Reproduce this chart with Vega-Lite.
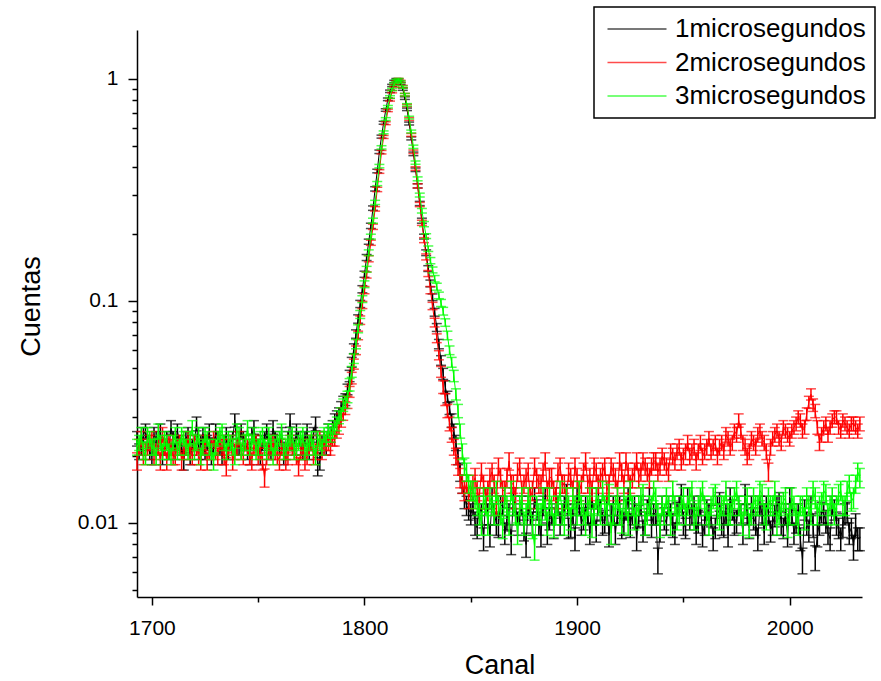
{
"$schema":"https://vega.github.io/schema/vega-lite/v6.json",
"width":725,"height":567,
"autosize":{"type":"none"},
"padding":{"left":137,"top":30,"right":19,"bottom":84},
"background":"white",
"config":{
 "view":{"stroke":null},
 "font":"Liberation Sans",
 "axis":{"domainColor":"#000","domainWidth":1.5,"tickColor":"#000","tickWidth":1.5,"labelColor":"#000","titleColor":"#000","labelFont":"Liberation Sans","titleFont":"Liberation Sans","labelFontSize":21,"titleFontSize":27,"titleFontWeight":"normal","grid":false,"labelOverlap":false,"labelFlush":false,"labelBound":false},
 "legend":{"strokeColor":"#000000","strokeWidth":1.5,"fillColor":"white"}
},
"data":{"values":[
{"c":1693,"a":0.024,"b":0.019,"g":0.022,"ea":0.0018,"eb":0.0017,"eg":0.0018},
{"c":1694,"a":0.021,"b":0.022,"g":0.023,"ea":0.0017,"eb":0.0018,"eg":0.0018},
{"c":1695,"a":0.022,"b":0.024,"g":0.025,"ea":0.0018,"eb":0.0018,"eg":0.0019},
{"c":1696,"a":0.025,"b":0.020,"g":0.021,"ea":0.0019,"eb":0.0017,"eg":0.0017},
{"c":1697,"a":0.026,"b":0.021,"g":0.020,"ea":0.0019,"eb":0.0017,"eg":0.0017},
{"c":1698,"a":0.023,"b":0.022,"g":0.025,"ea":0.0018,"eb":0.0018,"eg":0.0019},
{"c":1699,"a":0.021,"b":0.023,"g":0.024,"ea":0.0017,"eb":0.0018,"eg":0.0018},
{"c":1700,"a":0.020,"b":0.024,"g":0.022,"ea":0.0017,"eb":0.0018,"eg":0.0018},
{"c":1701,"a":0.025,"b":0.020,"g":0.022,"ea":0.0019,"eb":0.0017,"eg":0.0018},
{"c":1702,"a":0.024,"b":0.021,"g":0.020,"ea":0.0018,"eb":0.0017,"eg":0.0017},
{"c":1703,"a":0.022,"b":0.022,"g":0.026,"ea":0.0018,"eb":0.0018,"eg":0.0019},
{"c":1704,"a":0.026,"b":0.019,"g":0.023,"ea":0.0019,"eb":0.0017,"eg":0.0018},
{"c":1705,"a":0.020,"b":0.025,"g":0.021,"ea":0.0017,"eb":0.0019,"eg":0.0017},
{"c":1706,"a":0.022,"b":0.022,"g":0.024,"ea":0.0018,"eb":0.0018,"eg":0.0018},
{"c":1707,"a":0.024,"b":0.019,"g":0.023,"ea":0.0018,"eb":0.0017,"eg":0.0018},
{"c":1708,"a":0.021,"b":0.023,"g":0.021,"ea":0.0017,"eb":0.0018,"eg":0.0017},
{"c":1709,"a":0.027,"b":0.022,"g":0.020,"ea":0.0019,"eb":0.0018,"eg":0.0017},
{"c":1710,"a":0.024,"b":0.020,"g":0.023,"ea":0.0018,"eb":0.0017,"eg":0.0018},
{"c":1711,"a":0.021,"b":0.020,"g":0.025,"ea":0.0017,"eb":0.0017,"eg":0.0019},
{"c":1712,"a":0.026,"b":0.022,"g":0.021,"ea":0.0019,"eb":0.0018,"eg":0.0017},
{"c":1713,"a":0.023,"b":0.023,"g":0.022,"ea":0.0018,"eb":0.0018,"eg":0.0018},
{"c":1714,"a":0.022,"b":0.019,"g":0.025,"ea":0.0018,"eb":0.0017,"eg":0.0019},
{"c":1715,"a":0.019,"b":0.021,"g":0.024,"ea":0.0017,"eb":0.0017,"eg":0.0018},
{"c":1716,"a":0.024,"b":0.022,"g":0.022,"ea":0.0018,"eb":0.0018,"eg":0.0018},
{"c":1717,"a":0.025,"b":0.024,"g":0.021,"ea":0.0019,"eb":0.0018,"eg":0.0017},
{"c":1718,"a":0.020,"b":0.021,"g":0.024,"ea":0.0017,"eb":0.0017,"eg":0.0018},
{"c":1719,"a":0.022,"b":0.020,"g":0.027,"ea":0.0018,"eb":0.0017,"eg":0.0019},
{"c":1720,"a":0.023,"b":0.023,"g":0.021,"ea":0.0018,"eb":0.0018,"eg":0.0017},
{"c":1721,"a":0.028,"b":0.022,"g":0.023,"ea":0.0020,"eb":0.0018,"eg":0.0018},
{"c":1722,"a":0.021,"b":0.020,"g":0.025,"ea":0.0017,"eb":0.0017,"eg":0.0019},
{"c":1723,"a":0.023,"b":0.019,"g":0.020,"ea":0.0018,"eb":0.0017,"eg":0.0017},
{"c":1724,"a":0.025,"b":0.022,"g":0.022,"ea":0.0019,"eb":0.0018,"eg":0.0018},
{"c":1725,"a":0.021,"b":0.023,"g":0.025,"ea":0.0017,"eb":0.0018,"eg":0.0019},
{"c":1726,"a":0.023,"b":0.019,"g":0.024,"ea":0.0018,"eb":0.0017,"eg":0.0018},
{"c":1727,"a":0.026,"b":0.021,"g":0.022,"ea":0.0019,"eb":0.0017,"eg":0.0018},
{"c":1728,"a":0.020,"b":0.022,"g":0.021,"ea":0.0017,"eb":0.0018,"eg":0.0017},
{"c":1729,"a":0.022,"b":0.024,"g":0.019,"ea":0.0018,"eb":0.0018,"eg":0.0017},
{"c":1730,"a":0.026,"b":0.021,"g":0.022,"ea":0.0019,"eb":0.0017,"eg":0.0018},
{"c":1731,"a":0.024,"b":0.020,"g":0.024,"ea":0.0018,"eb":0.0017,"eg":0.0018},
{"c":1732,"a":0.022,"b":0.023,"g":0.025,"ea":0.0018,"eb":0.0018,"eg":0.0019},
{"c":1733,"a":0.020,"b":0.022,"g":0.026,"ea":0.0017,"eb":0.0018,"eg":0.0019},
{"c":1734,"a":0.023,"b":0.020,"g":0.023,"ea":0.0018,"eb":0.0017,"eg":0.0018},
{"c":1735,"a":0.025,"b":0.018,"g":0.021,"ea":0.0019,"eb":0.0017,"eg":0.0017},
{"c":1736,"a":0.021,"b":0.022,"g":0.024,"ea":0.0017,"eb":0.0018,"eg":0.0018},
{"c":1737,"a":0.023,"b":0.023,"g":0.023,"ea":0.0018,"eb":0.0018,"eg":0.0018},
{"c":1738,"a":0.024,"b":0.019,"g":0.022,"ea":0.0018,"eb":0.0017,"eg":0.0018},
{"c":1739,"a":0.029,"b":0.021,"g":0.020,"ea":0.0020,"eb":0.0017,"eg":0.0017},
{"c":1740,"a":0.022,"b":0.022,"g":0.026,"ea":0.0018,"eb":0.0018,"eg":0.0019},
{"c":1741,"a":0.022,"b":0.024,"g":0.025,"ea":0.0018,"eb":0.0018,"eg":0.0019},
{"c":1742,"a":0.026,"b":0.021,"g":0.021,"ea":0.0019,"eb":0.0017,"eg":0.0017},
{"c":1743,"a":0.024,"b":0.020,"g":0.022,"ea":0.0018,"eb":0.0017,"eg":0.0018},
{"c":1744,"a":0.023,"b":0.023,"g":0.023,"ea":0.0018,"eb":0.0018,"eg":0.0018},
{"c":1745,"a":0.021,"b":0.022,"g":0.027,"ea":0.0017,"eb":0.0018,"eg":0.0019},
{"c":1746,"a":0.020,"b":0.020,"g":0.022,"ea":0.0017,"eb":0.0017,"eg":0.0018},
{"c":1747,"a":0.025,"b":0.019,"g":0.023,"ea":0.0019,"eb":0.0017,"eg":0.0018},
{"c":1748,"a":0.027,"b":0.022,"g":0.025,"ea":0.0019,"eb":0.0018,"eg":0.0019},
{"c":1749,"a":0.023,"b":0.023,"g":0.021,"ea":0.0018,"eb":0.0018,"eg":0.0017},
{"c":1750,"a":0.022,"b":0.020,"g":0.022,"ea":0.0018,"eb":0.0017,"eg":0.0018},
{"c":1751,"a":0.020,"b":0.021,"g":0.024,"ea":0.0017,"eb":0.0017,"eg":0.0018},
{"c":1752,"a":0.023,"b":0.019,"g":0.025,"ea":0.0018,"eb":0.0017,"eg":0.0019},
{"c":1753,"a":0.024,"b":0.016,"g":0.022,"ea":0.0018,"eb":0.0015,"eg":0.0018},
{"c":1754,"a":0.026,"b":0.020,"g":0.021,"ea":0.0019,"eb":0.0017,"eg":0.0017},
{"c":1755,"a":0.022,"b":0.021,"g":0.025,"ea":0.0018,"eb":0.0017,"eg":0.0019},
{"c":1756,"a":0.021,"b":0.022,"g":0.023,"ea":0.0017,"eb":0.0018,"eg":0.0018},
{"c":1757,"a":0.027,"b":0.023,"g":0.020,"ea":0.0019,"eb":0.0018,"eg":0.0017},
{"c":1758,"a":0.024,"b":0.021,"g":0.022,"ea":0.0018,"eb":0.0017,"eg":0.0018},
{"c":1759,"a":0.023,"b":0.020,"g":0.023,"ea":0.0018,"eb":0.0017,"eg":0.0018},
{"c":1760,"a":0.022,"b":0.019,"g":0.024,"ea":0.0018,"eb":0.0017,"eg":0.0018},
{"c":1761,"a":0.025,"b":0.022,"g":0.026,"ea":0.0019,"eb":0.0018,"eg":0.0019},
{"c":1762,"a":0.020,"b":0.021,"g":0.021,"ea":0.0017,"eb":0.0017,"eg":0.0017},
{"c":1763,"a":0.021,"b":0.019,"g":0.022,"ea":0.0017,"eb":0.0017,"eg":0.0018},
{"c":1764,"a":0.024,"b":0.020,"g":0.023,"ea":0.0018,"eb":0.0017,"eg":0.0018},
{"c":1765,"a":0.029,"b":0.023,"g":0.024,"ea":0.0020,"eb":0.0018,"eg":0.0018},
{"c":1766,"a":0.023,"b":0.022,"g":0.025,"ea":0.0018,"eb":0.0018,"eg":0.0019},
{"c":1767,"a":0.022,"b":0.021,"g":0.021,"ea":0.0018,"eb":0.0017,"eg":0.0017},
{"c":1768,"a":0.026,"b":0.020,"g":0.022,"ea":0.0019,"eb":0.0017,"eg":0.0018},
{"c":1769,"a":0.024,"b":0.018,"g":0.023,"ea":0.0018,"eb":0.0017,"eg":0.0018},
{"c":1770,"a":0.022,"b":0.021,"g":0.024,"ea":0.0018,"eb":0.0017,"eg":0.0018},
{"c":1771,"a":0.021,"b":0.022,"g":0.025,"ea":0.0017,"eb":0.0018,"eg":0.0019},
{"c":1772,"a":0.024,"b":0.019,"g":0.021,"ea":0.0018,"eb":0.0017,"eg":0.0017},
{"c":1773,"a":0.026,"b":0.020,"g":0.022,"ea":0.0019,"eb":0.0017,"eg":0.0018},
{"c":1774,"a":0.021,"b":0.022,"g":0.023,"ea":0.0017,"eb":0.0018,"eg":0.0018},
{"c":1775,"a":0.023,"b":0.023,"g":0.024,"ea":0.0018,"eb":0.0018,"eg":0.0018},
{"c":1776,"a":0.025,"b":0.020,"g":0.022,"ea":0.0019,"eb":0.0017,"eg":0.0018},
{"c":1777,"a":0.028,"b":0.021,"g":0.020,"ea":0.0020,"eb":0.0017,"eg":0.0017},
{"c":1778,"a":0.018,"b":0.022,"g":0.024,"ea":0.0017,"eb":0.0018,"eg":0.0018},
{"c":1779,"a":0.019,"b":0.024,"g":0.023,"ea":0.0017,"eb":0.0018,"eg":0.0018},
{"c":1780,"a":0.023,"b":0.021,"g":0.022,"ea":0.0018,"eb":0.0017,"eg":0.0018},
{"c":1781,"a":0.024,"b":0.022,"g":0.025,"ea":0.0018,"eb":0.0018,"eg":0.0019},
{"c":1782,"a":0.022,"b":0.023,"g":0.024,"ea":0.0018,"eb":0.0018,"eg":0.0018},
{"c":1783,"a":0.026,"b":0.023,"g":0.026,"ea":0.0019,"eb":0.0018,"eg":0.0019},
{"c":1784,"a":0.025,"b":0.022,"g":0.025,"ea":0.0019,"eb":0.0018,"eg":0.0019},
{"c":1785,"a":0.027,"b":0.024,"g":0.026,"ea":0.0019,"eb":0.0018,"eg":0.0019},
{"c":1786,"a":0.029,"b":0.024,"g":0.027,"ea":0.0020,"eb":0.0018,"eg":0.0019},
{"c":1787,"a":0.030,"b":0.026,"g":0.028,"ea":0.0020,"eb":0.0019,"eg":0.0020},
{"c":1788,"a":0.031,"b":0.027,"g":0.030,"ea":0.0020,"eb":0.0019,"eg":0.0020},
{"c":1789,"a":0.033,"b":0.029,"g":0.031,"ea":0.0022,"eb":0.0020,"eg":0.0020},
{"c":1790,"a":0.035,"b":0.031,"g":0.034,"ea":0.0022,"eb":0.0020,"eg":0.0022},
{"c":1791,"a":0.036,"b":0.033,"g":0.035,"ea":0.0022,"eb":0.0022,"eg":0.0022},
{"c":1792,"a":0.040,"b":0.035,"g":0.037,"ea":0.0022,"eb":0.0022,"eg":0.0022},
{"c":1793,"a":0.046,"b":0.039,"g":0.042,"ea":0.0027,"eb":0.0022,"eg":0.0027},
{"c":1794,"a":0.053,"b":0.045,"g":0.048,"ea":0.0027,"eb":0.0027,"eg":0.0027},
{"c":1795,"a":0.061,"b":0.052,"g":0.055,"ea":0.0031,"eb":0.0027,"eg":0.0027},
{"c":1796,"a":0.071,"b":0.060,"g":0.064,"ea":0.0031,"eb":0.0027,"eg":0.0031},
{"c":1797,"a":0.083,"b":0.070,"g":0.075,"ea":0.0036,"eb":0.0031,"eg":0.0031},
{"c":1798,"a":0.097,"b":0.082,"g":0.087,"ea":0.0036,"eb":0.0036,"eg":0.0036},
{"c":1799,"a":0.113,"b":0.096,"g":0.102,"ea":0.0042,"eb":0.0036,"eg":0.0036},
{"c":1800,"a":0.132,"b":0.112,"g":0.119,"ea":0.0042,"eb":0.0042,"eg":0.0042},
{"c":1801,"a":0.157,"b":0.131,"g":0.139,"ea":0.0049,"eb":0.0042,"eg":0.0042},
{"c":1802,"a":0.185,"b":0.155,"g":0.165,"ea":0.0049,"eb":0.0049,"eg":0.0049},
{"c":1803,"a":0.218,"b":0.183,"g":0.195,"ea":0.006,"eb":0.0049,"eg":0.0049},
{"c":1804,"a":0.262,"b":0.216,"g":0.230,"ea":0.006,"eb":0.006,"eg":0.006},
{"c":1805,"a":0.320,"b":0.260,"g":0.278,"ea":0.0072,"eb":0.006,"eg":0.006},
{"c":1806,"a":0.385,"b":0.318,"g":0.338,"ea":0.0072,"eb":0.0072,"eg":0.0072},
{"c":1807,"a":0.470,"b":0.383,"g":0.405,"ea":0.0085,"eb":0.0072,"eg":0.0072},
{"c":1808,"a":0.550,"b":0.468,"g":0.492,"ea":0.0085,"eb":0.0085,"eg":0.0085},
{"c":1809,"a":0.635,"b":0.548,"g":0.575,"ea":0.0095,"eb":0.0085,"eg":0.0085},
{"c":1810,"a":0.725,"b":0.632,"g":0.660,"ea":0.0095,"eb":0.0095,"eg":0.0095},
{"c":1811,"a":0.810,"b":0.722,"g":0.750,"ea":0.011,"eb":0.0095,"eg":0.0095},
{"c":1812,"a":0.880,"b":0.806,"g":0.830,"ea":0.011,"eb":0.011,"eg":0.011},
{"c":1813,"a":0.935,"b":0.877,"g":0.897,"ea":0.011,"eb":0.011,"eg":0.011},
{"c":1814,"a":0.975,"b":0.932,"g":0.948,"ea":0.011,"eb":0.011,"eg":0.011},
{"c":1815,"a":0.995,"b":0.972,"g":0.983,"ea":0.011,"eb":0.011,"eg":0.011},
{"c":1816,"a":0.990,"b":0.995,"g":0.995,"ea":0.011,"eb":0.011,"eg":0.011},
{"c":1817,"a":0.955,"b":0.975,"g":0.970,"ea":0.011,"eb":0.011,"eg":0.011},
{"c":1818,"a":0.900,"b":0.925,"g":0.920,"ea":0.011,"eb":0.011,"eg":0.011},
{"c":1819,"a":0.820,"b":0.850,"g":0.850,"ea":0.011,"eb":0.011,"eg":0.011},
{"c":1820,"a":0.730,"b":0.760,"g":0.765,"ea":0.0095,"eb":0.0095,"eg":0.0095},
{"c":1821,"a":0.630,"b":0.660,"g":0.670,"ea":0.0095,"eb":0.0095,"eg":0.0095},
{"c":1822,"a":0.540,"b":0.560,"g":0.580,"ea":0.0085,"eb":0.0085,"eg":0.0085},
{"c":1823,"a":0.460,"b":0.470,"g":0.495,"ea":0.0085,"eb":0.0085,"eg":0.0085},
{"c":1824,"a":0.390,"b":0.395,"g":0.420,"ea":0.0072,"eb":0.0072,"eg":0.0072},
{"c":1825,"a":0.330,"b":0.330,"g":0.355,"ea":0.0072,"eb":0.0072,"eg":0.0072},
{"c":1826,"a":0.275,"b":0.272,"g":0.300,"ea":0.006,"eb":0.006,"eg":0.006},
{"c":1827,"a":0.230,"b":0.225,"g":0.255,"ea":0.006,"eb":0.006,"eg":0.006},
{"c":1828,"a":0.195,"b":0.188,"g":0.222,"ea":0.0049,"eb":0.0049,"eg":0.006},
{"c":1829,"a":0.165,"b":0.158,"g":0.196,"ea":0.0049,"eb":0.0049,"eg":0.0049},
{"c":1830,"a":0.140,"b":0.133,"g":0.172,"ea":0.0042,"eb":0.0042,"eg":0.0049},
{"c":1831,"a":0.120,"b":0.112,"g":0.152,"ea":0.0042,"eb":0.0042,"eg":0.0049},
{"c":1832,"a":0.104,"b":0.095,"g":0.138,"ea":0.0036,"eb":0.0036,"eg":0.0042},
{"c":1833,"a":0.089,"b":0.080,"g":0.126,"ea":0.0036,"eb":0.0036,"eg":0.0042},
{"c":1834,"a":0.076,"b":0.068,"g":0.116,"ea":0.0031,"eb":0.0031,"eg":0.0042},
{"c":1835,"a":0.064,"b":0.057,"g":0.106,"ea":0.0031,"eb":0.0027,"eg":0.0036},
{"c":1836,"a":0.054,"b":0.048,"g":0.098,"ea":0.0027,"eb":0.0027,"eg":0.0036},
{"c":1837,"a":0.047,"b":0.041,"g":0.090,"ea":0.0027,"eb":0.0027,"eg":0.0036},
{"c":1838,"a":0.041,"b":0.036,"g":0.080,"ea":0.0027,"eb":0.0022,"eg":0.0031},
{"c":1839,"a":0.037,"b":0.032,"g":0.070,"ea":0.0022,"eb":0.0022,"eg":0.0031},
{"c":1840,"a":0.033,"b":0.028,"g":0.060,"ea":0.0022,"eb":0.0020,"eg":0.0027},
{"c":1841,"a":0.029,"b":0.025,"g":0.053,"ea":0.0020,"eb":0.0019,"eg":0.0027},
{"c":1842,"a":0.026,"b":0.022,"g":0.046,"ea":0.0019,"eb":0.0018,"eg":0.0027},
{"c":1843,"a":0.023,"b":0.020,"g":0.038,"ea":0.0018,"eb":0.0017,"eg":0.0022},
{"c":1844,"a":0.020,"b":0.018,"g":0.032,"ea":0.0017,"eb":0.0016,"eg":0.0022},
{"c":1845,"a":0.017,"b":0.016,"g":0.026,"ea":0.0016,"eb":0.0016,"eg":0.0019},
{"c":1846,"a":0.015,"b":0.015,"g":0.021,"ea":0.0014,"eb":0.0014,"eg":0.0017},
{"c":1847,"a":0.013,"b":0.014,"g":0.018,"ea":0.0014,"eb":0.0014,"eg":0.0016},
{"c":1848,"a":0.012,"b":0.015,"g":0.017,"ea":0.0012,"eb":0.0014,"eg":0.0016},
{"c":1849,"a":0.0115,"b":0.013,"g":0.015,"ea":0.0012,"eb":0.0014,"eg":0.0014},
{"c":1850,"a":0.011,"b":0.014,"g":0.014,"ea":0.0012,"eb":0.0014,"eg":0.0014},
{"c":1851,"a":0.012,"b":0.015,"g":0.014,"ea":0.0012,"eb":0.0014,"eg":0.0014},
{"c":1852,"a":0.010,"b":0.016,"g":0.013,"ea":0.0012,"eb":0.0016,"eg":0.0014},
{"c":1853,"a":0.0095,"b":0.014,"g":0.012,"ea":0.0010,"eb":0.0014,"eg":0.0012},
{"c":1854,"a":0.012,"b":0.013,"g":0.011,"ea":0.0012,"eb":0.0014,"eg":0.0012},
{"c":1855,"a":0.011,"b":0.017,"g":0.010,"ea":0.0012,"eb":0.0016,"eg":0.0012},
{"c":1856,"a":0.0085,"b":0.015,"g":0.013,"ea":0.0010,"eb":0.0014,"eg":0.0014},
{"c":1857,"a":0.013,"b":0.013,"g":0.012,"ea":0.0014,"eb":0.0014,"eg":0.0012},
{"c":1858,"a":0.011,"b":0.014,"g":0.010,"ea":0.0012,"eb":0.0014,"eg":0.0012},
{"c":1859,"a":0.0088,"b":0.016,"g":0.013,"ea":0.0010,"eb":0.0016,"eg":0.0014},
{"c":1860,"a":0.013,"b":0.017,"g":0.012,"ea":0.0014,"eb":0.0016,"eg":0.0012},
{"c":1861,"a":0.011,"b":0.015,"g":0.011,"ea":0.0012,"eb":0.0014,"eg":0.0012},
{"c":1862,"a":0.010,"b":0.012,"g":0.014,"ea":0.0012,"eb":0.0012,"eg":0.0014},
{"c":1863,"a":0.0098,"b":0.018,"g":0.012,"ea":0.0012,"eb":0.0016,"eg":0.0012},
{"c":1864,"a":0.012,"b":0.016,"g":0.011,"ea":0.0012,"eb":0.0016,"eg":0.0012},
{"c":1865,"a":0.012,"b":0.014,"g":0.0095,"ea":0.0012,"eb":0.0014,"eg":0.0010},
{"c":1866,"a":0.009,"b":0.014,"g":0.013,"ea":0.0010,"eb":0.0014,"eg":0.0014},
{"c":1867,"a":0.0105,"b":0.016,"g":0.012,"ea":0.0012,"eb":0.0016,"eg":0.0012},
{"c":1868,"a":0.011,"b":0.019,"g":0.010,"ea":0.0012,"eb":0.0017,"eg":0.0012},
{"c":1869,"a":0.0082,"b":0.015,"g":0.014,"ea":0.0010,"eb":0.0014,"eg":0.0014},
{"c":1870,"a":0.013,"b":0.015,"g":0.012,"ea":0.0014,"eb":0.0014,"eg":0.0012},
{"c":1871,"a":0.012,"b":0.013,"g":0.011,"ea":0.0012,"eb":0.0014,"eg":0.0012},
{"c":1872,"a":0.010,"b":0.017,"g":0.009,"ea":0.0012,"eb":0.0016,"eg":0.0010},
{"c":1873,"a":0.011,"b":0.018,"g":0.012,"ea":0.0012,"eb":0.0016,"eg":0.0012},
{"c":1874,"a":0.012,"b":0.014,"g":0.013,"ea":0.0012,"eb":0.0014,"eg":0.0014},
{"c":1875,"a":0.0093,"b":0.015,"g":0.010,"ea":0.0010,"eb":0.0014,"eg":0.0012},
{"c":1876,"a":0.008,"b":0.016,"g":0.011,"ea":0.0010,"eb":0.0016,"eg":0.0012},
{"c":1877,"a":0.012,"b":0.017,"g":0.013,"ea":0.0012,"eb":0.0016,"eg":0.0014},
{"c":1878,"a":0.011,"b":0.013,"g":0.012,"ea":0.0012,"eb":0.0014,"eg":0.0012},
{"c":1879,"a":0.010,"b":0.014,"g":0.0095,"ea":0.0012,"eb":0.0014,"eg":0.0010},
{"c":1880,"a":0.013,"b":0.018,"g":0.0078,"ea":0.0014,"eb":0.0016,"eg":0.0010},
{"c":1881,"a":0.0115,"b":0.016,"g":0.012,"ea":0.0012,"eb":0.0016,"eg":0.0012},
{"c":1882,"a":0.010,"b":0.015,"g":0.011,"ea":0.0012,"eb":0.0014,"eg":0.0012},
{"c":1883,"a":0.0088,"b":0.015,"g":0.011,"ea":0.0010,"eb":0.0014,"eg":0.0012},
{"c":1884,"a":0.012,"b":0.017,"g":0.013,"ea":0.0012,"eb":0.0016,"eg":0.0014},
{"c":1885,"a":0.013,"b":0.019,"g":0.0115,"ea":0.0014,"eb":0.0017,"eg":0.0012},
{"c":1886,"a":0.009,"b":0.014,"g":0.010,"ea":0.0010,"eb":0.0014,"eg":0.0012},
{"c":1887,"a":0.0105,"b":0.016,"g":0.013,"ea":0.0012,"eb":0.0016,"eg":0.0014},
{"c":1888,"a":0.011,"b":0.016,"g":0.012,"ea":0.0012,"eb":0.0016,"eg":0.0012},
{"c":1889,"a":0.0095,"b":0.014,"g":0.0098,"ea":0.0010,"eb":0.0014,"eg":0.0012},
{"c":1890,"a":0.013,"b":0.013,"g":0.011,"ea":0.0014,"eb":0.0014,"eg":0.0012},
{"c":1891,"a":0.012,"b":0.017,"g":0.012,"ea":0.0012,"eb":0.0016,"eg":0.0012},
{"c":1892,"a":0.010,"b":0.018,"g":0.014,"ea":0.0012,"eb":0.0016,"eg":0.0014},
{"c":1893,"a":0.011,"b":0.015,"g":0.011,"ea":0.0012,"eb":0.0014,"eg":0.0012},
{"c":1894,"a":0.012,"b":0.015,"g":0.010,"ea":0.0012,"eb":0.0014,"eg":0.0012},
{"c":1895,"a":0.0135,"b":0.013,"g":0.013,"ea":0.0014,"eb":0.0014,"eg":0.0014},
{"c":1896,"a":0.0095,"b":0.017,"g":0.012,"ea":0.0010,"eb":0.0016,"eg":0.0012},
{"c":1897,"a":0.0098,"b":0.016,"g":0.0105,"ea":0.0012,"eb":0.0016,"eg":0.0012},
{"c":1898,"a":0.011,"b":0.014,"g":0.013,"ea":0.0012,"eb":0.0014,"eg":0.0014},
{"c":1899,"a":0.0085,"b":0.018,"g":0.012,"ea":0.0010,"eb":0.0016,"eg":0.0012},
{"c":1900,"a":0.013,"b":0.016,"g":0.011,"ea":0.0014,"eb":0.0016,"eg":0.0012},
{"c":1901,"a":0.012,"b":0.014,"g":0.014,"ea":0.0012,"eb":0.0014,"eg":0.0014},
{"c":1902,"a":0.010,"b":0.015,"g":0.012,"ea":0.0012,"eb":0.0014,"eg":0.0012},
{"c":1903,"a":0.0105,"b":0.017,"g":0.011,"ea":0.0012,"eb":0.0016,"eg":0.0012},
{"c":1904,"a":0.012,"b":0.019,"g":0.010,"ea":0.0012,"eb":0.0017,"eg":0.0012},
{"c":1905,"a":0.011,"b":0.015,"g":0.012,"ea":0.0012,"eb":0.0014,"eg":0.0012},
{"c":1906,"a":0.009,"b":0.016,"g":0.013,"ea":0.0010,"eb":0.0016,"eg":0.0014},
{"c":1907,"a":0.013,"b":0.014,"g":0.0098,"ea":0.0014,"eb":0.0014,"eg":0.0012},
{"c":1908,"a":0.011,"b":0.018,"g":0.011,"ea":0.0012,"eb":0.0016,"eg":0.0012},
{"c":1909,"a":0.0092,"b":0.017,"g":0.013,"ea":0.0010,"eb":0.0016,"eg":0.0014},
{"c":1910,"a":0.013,"b":0.015,"g":0.012,"ea":0.0014,"eb":0.0014,"eg":0.0012},
{"c":1911,"a":0.0115,"b":0.016,"g":0.011,"ea":0.0012,"eb":0.0016,"eg":0.0012},
{"c":1912,"a":0.010,"b":0.017,"g":0.014,"ea":0.0012,"eb":0.0016,"eg":0.0014},
{"c":1913,"a":0.0102,"b":0.018,"g":0.012,"ea":0.0012,"eb":0.0016,"eg":0.0012},
{"c":1914,"a":0.012,"b":0.014,"g":0.011,"ea":0.0012,"eb":0.0014,"eg":0.0012},
{"c":1915,"a":0.0088,"b":0.015,"g":0.0135,"ea":0.0010,"eb":0.0014,"eg":0.0014},
{"c":1916,"a":0.011,"b":0.018,"g":0.009,"ea":0.0012,"eb":0.0016,"eg":0.0010},
{"c":1917,"a":0.012,"b":0.017,"g":0.011,"ea":0.0012,"eb":0.0016,"eg":0.0012},
{"c":1918,"a":0.009,"b":0.016,"g":0.012,"ea":0.0010,"eb":0.0016,"eg":0.0012},
{"c":1919,"a":0.011,"b":0.014,"g":0.013,"ea":0.0012,"eb":0.0014,"eg":0.0014},
{"c":1920,"a":0.012,"b":0.019,"g":0.011,"ea":0.0012,"eb":0.0017,"eg":0.0012},
{"c":1921,"a":0.0095,"b":0.017,"g":0.0102,"ea":0.0010,"eb":0.0016,"eg":0.0012},
{"c":1922,"a":0.010,"b":0.015,"g":0.013,"ea":0.0012,"eb":0.0014,"eg":0.0014},
{"c":1923,"a":0.0115,"b":0.019,"g":0.012,"ea":0.0012,"eb":0.0017,"eg":0.0012},
{"c":1924,"a":0.013,"b":0.017,"g":0.010,"ea":0.0014,"eb":0.0016,"eg":0.0012},
{"c":1925,"a":0.0098,"b":0.015,"g":0.014,"ea":0.0012,"eb":0.0014,"eg":0.0014},
{"c":1926,"a":0.011,"b":0.016,"g":0.012,"ea":0.0012,"eb":0.0016,"eg":0.0012},
{"c":1927,"a":0.012,"b":0.017,"g":0.0105,"ea":0.0012,"eb":0.0016,"eg":0.0012},
{"c":1928,"a":0.0085,"b":0.019,"g":0.011,"ea":0.0010,"eb":0.0017,"eg":0.0012},
{"c":1929,"a":0.0108,"b":0.016,"g":0.012,"ea":0.0012,"eb":0.0016,"eg":0.0012},
{"c":1930,"a":0.012,"b":0.017,"g":0.013,"ea":0.0012,"eb":0.0016,"eg":0.0014},
{"c":1931,"a":0.0092,"b":0.019,"g":0.0135,"ea":0.0010,"eb":0.0017,"eg":0.0014},
{"c":1932,"a":0.010,"b":0.018,"g":0.010,"ea":0.0012,"eb":0.0016,"eg":0.0012},
{"c":1933,"a":0.0115,"b":0.017,"g":0.011,"ea":0.0012,"eb":0.0016,"eg":0.0012},
{"c":1934,"a":0.013,"b":0.016,"g":0.012,"ea":0.0014,"eb":0.0016,"eg":0.0012},
{"c":1935,"a":0.0098,"b":0.018,"g":0.012,"ea":0.0012,"eb":0.0016,"eg":0.0012},
{"c":1936,"a":0.011,"b":0.019,"g":0.014,"ea":0.0012,"eb":0.0017,"eg":0.0014},
{"c":1937,"a":0.011,"b":0.019,"g":0.013,"ea":0.0012,"eb":0.0017,"eg":0.0014},
{"c":1938,"a":0.0068,"b":0.017,"g":0.011,"ea":0.0009,"eb":0.0016,"eg":0.0012},
{"c":1939,"a":0.0092,"b":0.018,"g":0.0098,"ea":0.0010,"eb":0.0016,"eg":0.0012},
{"c":1940,"a":0.012,"b":0.020,"g":0.012,"ea":0.0012,"eb":0.0017,"eg":0.0012},
{"c":1941,"a":0.0105,"b":0.019,"g":0.011,"ea":0.0012,"eb":0.0017,"eg":0.0012},
{"c":1942,"a":0.010,"b":0.018,"g":0.013,"ea":0.0012,"eb":0.0016,"eg":0.0014},
{"c":1943,"a":0.012,"b":0.017,"g":0.012,"ea":0.0012,"eb":0.0016,"eg":0.0012},
{"c":1944,"a":0.011,"b":0.021,"g":0.010,"ea":0.0012,"eb":0.0017,"eg":0.0012},
{"c":1945,"a":0.0098,"b":0.020,"g":0.014,"ea":0.0012,"eb":0.0017,"eg":0.0014},
{"c":1946,"a":0.009,"b":0.019,"g":0.012,"ea":0.0010,"eb":0.0017,"eg":0.0012},
{"c":1947,"a":0.0112,"b":0.021,"g":0.0105,"ea":0.0012,"eb":0.0017,"eg":0.0012},
{"c":1948,"a":0.012,"b":0.022,"g":0.011,"ea":0.0012,"eb":0.0018,"eg":0.0012},
{"c":1949,"a":0.0135,"b":0.019,"g":0.012,"ea":0.0014,"eb":0.0017,"eg":0.0012},
{"c":1950,"a":0.010,"b":0.020,"g":0.013,"ea":0.0012,"eb":0.0017,"eg":0.0014},
{"c":1951,"a":0.0095,"b":0.021,"g":0.011,"ea":0.0010,"eb":0.0017,"eg":0.0012},
{"c":1952,"a":0.013,"b":0.023,"g":0.012,"ea":0.0014,"eb":0.0018,"eg":0.0012},
{"c":1953,"a":0.0105,"b":0.020,"g":0.013,"ea":0.0012,"eb":0.0017,"eg":0.0014},
{"c":1954,"a":0.011,"b":0.021,"g":0.014,"ea":0.0012,"eb":0.0017,"eg":0.0014},
{"c":1955,"a":0.012,"b":0.022,"g":0.0105,"ea":0.0012,"eb":0.0018,"eg":0.0012},
{"c":1956,"a":0.009,"b":0.019,"g":0.011,"ea":0.0010,"eb":0.0017,"eg":0.0012},
{"c":1957,"a":0.0102,"b":0.021,"g":0.012,"ea":0.0012,"eb":0.0017,"eg":0.0012},
{"c":1958,"a":0.012,"b":0.023,"g":0.013,"ea":0.0012,"eb":0.0018,"eg":0.0014},
{"c":1959,"a":0.0088,"b":0.020,"g":0.014,"ea":0.0010,"eb":0.0017,"eg":0.0014},
{"c":1960,"a":0.010,"b":0.021,"g":0.012,"ea":0.0012,"eb":0.0017,"eg":0.0012},
{"c":1961,"a":0.0115,"b":0.022,"g":0.011,"ea":0.0012,"eb":0.0018,"eg":0.0012},
{"c":1962,"a":0.011,"b":0.024,"g":0.010,"ea":0.0012,"eb":0.0018,"eg":0.0012},
{"c":1963,"a":0.0108,"b":0.021,"g":0.012,"ea":0.0012,"eb":0.0017,"eg":0.0012},
{"c":1964,"a":0.0085,"b":0.022,"g":0.013,"ea":0.0010,"eb":0.0018,"eg":0.0014},
{"c":1965,"a":0.0095,"b":0.023,"g":0.0135,"ea":0.0010,"eb":0.0018,"eg":0.0014},
{"c":1966,"a":0.012,"b":0.020,"g":0.011,"ea":0.0012,"eb":0.0017,"eg":0.0012},
{"c":1967,"a":0.0125,"b":0.022,"g":0.0105,"ea":0.0012,"eb":0.0018,"eg":0.0012},
{"c":1968,"a":0.010,"b":0.023,"g":0.012,"ea":0.0012,"eb":0.0018,"eg":0.0012},
{"c":1969,"a":0.0098,"b":0.021,"g":0.012,"ea":0.0012,"eb":0.0017,"eg":0.0012},
{"c":1970,"a":0.011,"b":0.025,"g":0.014,"ea":0.0012,"eb":0.0019,"eg":0.0014},
{"c":1971,"a":0.0088,"b":0.024,"g":0.011,"ea":0.0010,"eb":0.0018,"eg":0.0012},
{"c":1972,"a":0.013,"b":0.022,"g":0.011,"ea":0.0014,"eb":0.0018,"eg":0.0012},
{"c":1973,"a":0.0115,"b":0.023,"g":0.012,"ea":0.0012,"eb":0.0018,"eg":0.0012},
{"c":1974,"a":0.010,"b":0.026,"g":0.013,"ea":0.0012,"eb":0.0019,"eg":0.0014},
{"c":1975,"a":0.0102,"b":0.025,"g":0.014,"ea":0.0012,"eb":0.0019,"eg":0.0014},
{"c":1976,"a":0.012,"b":0.029,"g":0.012,"ea":0.0012,"eb":0.0020,"eg":0.0012},
{"c":1977,"a":0.011,"b":0.026,"g":0.011,"ea":0.0012,"eb":0.0019,"eg":0.0012},
{"c":1978,"a":0.009,"b":0.023,"g":0.010,"ea":0.0010,"eb":0.0018,"eg":0.0012},
{"c":1979,"a":0.0135,"b":0.022,"g":0.012,"ea":0.0014,"eb":0.0018,"eg":0.0012},
{"c":1980,"a":0.011,"b":0.020,"g":0.013,"ea":0.0012,"eb":0.0017,"eg":0.0014},
{"c":1981,"a":0.0095,"b":0.021,"g":0.0098,"ea":0.0010,"eb":0.0017,"eg":0.0012},
{"c":1982,"a":0.012,"b":0.024,"g":0.011,"ea":0.0012,"eb":0.0018,"eg":0.0012},
{"c":1983,"a":0.0105,"b":0.023,"g":0.013,"ea":0.0012,"eb":0.0018,"eg":0.0014},
{"c":1984,"a":0.010,"b":0.022,"g":0.012,"ea":0.0012,"eb":0.0018,"eg":0.0012},
{"c":1985,"a":0.0085,"b":0.025,"g":0.012,"ea":0.0010,"eb":0.0019,"eg":0.0012},
{"c":1986,"a":0.012,"b":0.026,"g":0.014,"ea":0.0012,"eb":0.0019,"eg":0.0014},
{"c":1987,"a":0.011,"b":0.024,"g":0.0135,"ea":0.0012,"eb":0.0018,"eg":0.0014},
{"c":1988,"a":0.009,"b":0.023,"g":0.011,"ea":0.0010,"eb":0.0018,"eg":0.0012},
{"c":1989,"a":0.012,"b":0.021,"g":0.0105,"ea":0.0012,"eb":0.0017,"eg":0.0012},
{"c":1990,"a":0.011,"b":0.017,"g":0.013,"ea":0.0012,"eb":0.0016,"eg":0.0014},
{"c":1991,"a":0.0092,"b":0.022,"g":0.012,"ea":0.0010,"eb":0.0018,"eg":0.0012},
{"c":1992,"a":0.010,"b":0.024,"g":0.012,"ea":0.0012,"eb":0.0018,"eg":0.0012},
{"c":1993,"a":0.0108,"b":0.025,"g":0.014,"ea":0.0012,"eb":0.0019,"eg":0.0014},
{"c":1994,"a":0.012,"b":0.026,"g":0.010,"ea":0.0012,"eb":0.0019,"eg":0.0012},
{"c":1995,"a":0.0125,"b":0.024,"g":0.011,"ea":0.0012,"eb":0.0018,"eg":0.0012},
{"c":1996,"a":0.010,"b":0.023,"g":0.012,"ea":0.0012,"eb":0.0018,"eg":0.0012},
{"c":1997,"a":0.0095,"b":0.027,"g":0.0125,"ea":0.0010,"eb":0.0019,"eg":0.0012},
{"c":1998,"a":0.011,"b":0.026,"g":0.013,"ea":0.0012,"eb":0.0019,"eg":0.0014},
{"c":1999,"a":0.0088,"b":0.025,"g":0.0098,"ea":0.0010,"eb":0.0019,"eg":0.0012},
{"c":2000,"a":0.013,"b":0.024,"g":0.011,"ea":0.0014,"eb":0.0018,"eg":0.0012},
{"c":2001,"a":0.011,"b":0.026,"g":0.013,"ea":0.0012,"eb":0.0019,"eg":0.0014},
{"c":2002,"a":0.009,"b":0.027,"g":0.012,"ea":0.0010,"eb":0.0019,"eg":0.0012},
{"c":2003,"a":0.0102,"b":0.028,"g":0.011,"ea":0.0012,"eb":0.0020,"eg":0.0012},
{"c":2004,"a":0.011,"b":0.030,"g":0.010,"ea":0.0012,"eb":0.0020,"eg":0.0012},
{"c":2005,"a":0.0085,"b":0.029,"g":0.012,"ea":0.0010,"eb":0.0020,"eg":0.0012},
{"c":2006,"a":0.0068,"b":0.026,"g":0.012,"ea":0.0009,"eb":0.0019,"eg":0.0012},
{"c":2007,"a":0.0115,"b":0.027,"g":0.0105,"ea":0.0012,"eb":0.0019,"eg":0.0012},
{"c":2008,"a":0.010,"b":0.031,"g":0.013,"ea":0.0012,"eb":0.0020,"eg":0.0014},
{"c":2009,"a":0.0092,"b":0.035,"g":0.012,"ea":0.0010,"eb":0.0022,"eg":0.0012},
{"c":2010,"a":0.012,"b":0.038,"g":0.011,"ea":0.0012,"eb":0.0022,"eg":0.0012},
{"c":2011,"a":0.0098,"b":0.034,"g":0.014,"ea":0.0012,"eb":0.0022,"eg":0.0014},
{"c":2012,"a":0.0070,"b":0.032,"g":0.013,"ea":0.0009,"eb":0.0022,"eg":0.0014},
{"c":2013,"a":0.0088,"b":0.027,"g":0.011,"ea":0.0010,"eb":0.0019,"eg":0.0012},
{"c":2014,"a":0.010,"b":0.023,"g":0.012,"ea":0.0012,"eb":0.0018,"eg":0.0012},
{"c":2015,"a":0.0112,"b":0.025,"g":0.0125,"ea":0.0012,"eb":0.0019,"eg":0.0012},
{"c":2016,"a":0.011,"b":0.027,"g":0.014,"ea":0.0012,"eb":0.0019,"eg":0.0014},
{"c":2017,"a":0.0102,"b":0.028,"g":0.0135,"ea":0.0012,"eb":0.0020,"eg":0.0014},
{"c":2018,"a":0.009,"b":0.025,"g":0.011,"ea":0.0010,"eb":0.0019,"eg":0.0012},
{"c":2019,"a":0.0085,"b":0.027,"g":0.012,"ea":0.0010,"eb":0.0019,"eg":0.0012},
{"c":2020,"a":0.012,"b":0.029,"g":0.013,"ea":0.0012,"eb":0.0020,"eg":0.0014},
{"c":2021,"a":0.0115,"b":0.030,"g":0.011,"ea":0.0012,"eb":0.0020,"eg":0.0012},
{"c":2022,"a":0.010,"b":0.030,"g":0.012,"ea":0.0012,"eb":0.0020,"eg":0.0012},
{"c":2023,"a":0.0095,"b":0.027,"g":0.0135,"ea":0.0010,"eb":0.0019,"eg":0.0014},
{"c":2024,"a":0.0085,"b":0.026,"g":0.014,"ea":0.0010,"eb":0.0019,"eg":0.0014},
{"c":2025,"a":0.0098,"b":0.029,"g":0.012,"ea":0.0012,"eb":0.0020,"eg":0.0012},
{"c":2026,"a":0.011,"b":0.028,"g":0.012,"ea":0.0012,"eb":0.0020,"eg":0.0012},
{"c":2027,"a":0.0112,"b":0.027,"g":0.014,"ea":0.0012,"eb":0.0019,"eg":0.0014},
{"c":2028,"a":0.009,"b":0.026,"g":0.015,"ea":0.0010,"eb":0.0019,"eg":0.0014},
{"c":2029,"a":0.0095,"b":0.028,"g":0.0125,"ea":0.0010,"eb":0.0020,"eg":0.0012},
{"c":2030,"a":0.0078,"b":0.028,"g":0.013,"ea":0.0010,"eb":0.0020,"eg":0.0014},
{"c":2031,"a":0.0098,"b":0.027,"g":0.015,"ea":0.0012,"eb":0.0019,"eg":0.0014},
{"c":2032,"a":0.0085,"b":0.026,"g":0.017,"ea":0.0010,"eb":0.0019,"eg":0.0016},
{"c":2033,"a":0.0085,"b":0.028,"g":0.016,"ea":0.0010,"eb":0.0020,"eg":0.0016}
]},
"encoding":{
 "x":{"field":"c","type":"quantitative","scale":{"domain":[1693,2034],"nice":false,"zero":false},
  "axis":{"title":"Canal","values":[1700,1750,1800,1850,1900,1950,2000],"labelExpr":"datum.value % 100 == 0 ? datum.label : ''","format":"d","tickSize":{"condition":{"test":"datum.value % 100 == 0","value":8},"value":5},"labelPadding":12,"titlePadding":14}}
},
"layer":[
 {"mark":{"type":"line","strokeWidth":1},
  "encoding":{
   "y":{"field":"a","type":"quantitative","title":"Cuentas","scale":{"type":"log","domain":[0.00464,1.662],"nice":false},
    "axis":{"values":[0.005,0.006,0.007,0.008,0.009,0.01,0.02,0.03,0.04,0.05,0.06,0.07,0.08,0.09,0.1,0.2,0.3,0.4,0.5,0.6,0.7,0.8,0.9,1],
     "labelExpr":"datum.value == 1 ? '1' : datum.value == 0.1 ? '0.1' : datum.value == 0.01 ? '0.01' : ''",
     "tickSize":{"condition":{"test":"datum.value == 0.01 || datum.value == 0.1 || datum.value == 1","value":9},"value":5},
     "labelPadding":10,"titlePadding":32,"titleY":276}},
   "color":{"datum":"1microsegundos","type":"nominal",
    "scale":{"domain":["1microsegundos","2microsegundos","3microsegundos"],"range":["#000000","#ff0000","#00ff00"]},
    "legend":{"title":null,"orient":"none","legendX":457,"legendY":-23,"padding":9,
     "symbolType":"M-5.9,0H5.9","symbolSize":100,"symbolStrokeWidth":1.5,"symbolOffset":21,"labelOffset":25,"rowPadding":7.5,
     "labelFontSize":26,"labelFont":"Liberation Sans","labelColor":"#000000","labelLimit":0}}
  }},
 {"mark":{"type":"errorbar","ticks":true,"size":10,"thickness":1.5},
  "encoding":{"y":{"field":"a","type":"quantitative","title":"Cuentas"},"yError":{"field":"ea"},"color":{"datum":"1microsegundos","type":"nominal"}}},
 {"mark":{"type":"line","strokeWidth":1},
  "encoding":{"y":{"field":"b","type":"quantitative","title":"Cuentas"},"color":{"datum":"2microsegundos","type":"nominal"}}},
 {"mark":{"type":"errorbar","ticks":true,"size":10,"thickness":1.5},
  "encoding":{"y":{"field":"b","type":"quantitative","title":"Cuentas"},"yError":{"field":"eb"},"color":{"datum":"2microsegundos","type":"nominal"}}},
 {"mark":{"type":"line","strokeWidth":1},
  "encoding":{"y":{"field":"g","type":"quantitative","title":"Cuentas"},"color":{"datum":"3microsegundos","type":"nominal"}}},
 {"mark":{"type":"errorbar","ticks":true,"size":10,"thickness":1.5},
  "encoding":{"y":{"field":"g","type":"quantitative","title":"Cuentas"},"yError":{"field":"eg"},"color":{"datum":"3microsegundos","type":"nominal"}}}
]
}
